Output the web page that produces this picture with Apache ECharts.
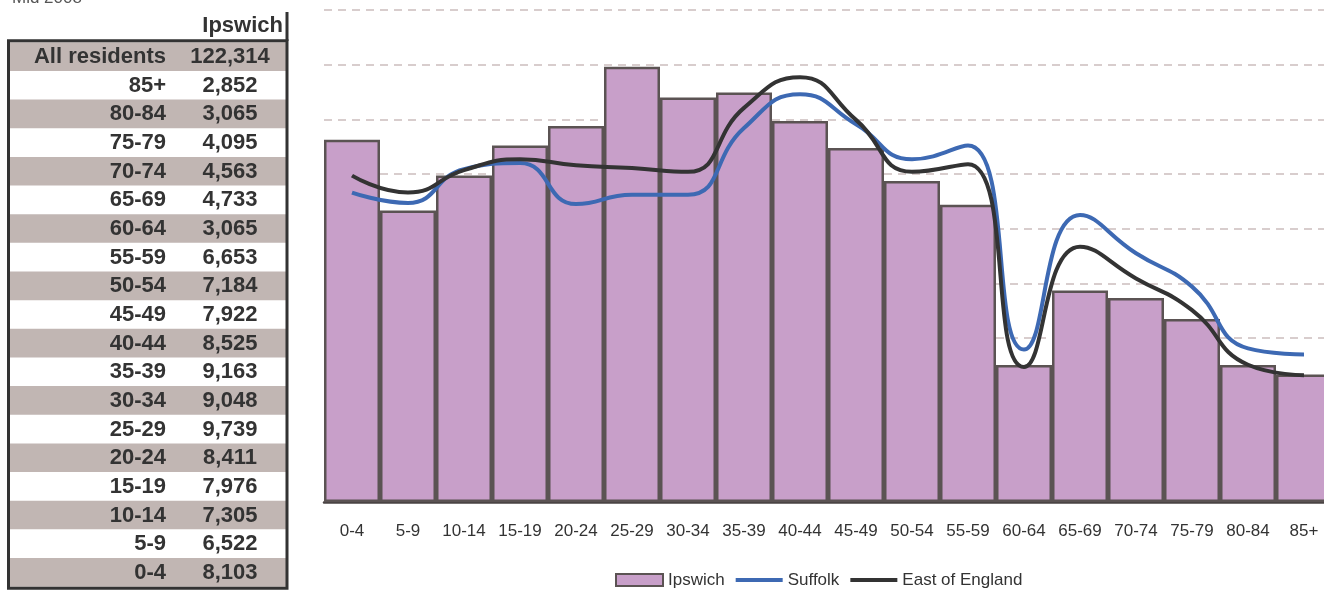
<!DOCTYPE html>
<html>
<head>
<meta charset="utf-8">
<title>Ipswich population by age, mid 2008</title>
<script src="https://cdn.jsdelivr.net/npm/echarts@6/dist/echarts.min.js"></script>
<style>
  html, body { margin: 0; padding: 0; background: #fff; }
  #chart { width: 1324px; height: 590px; }
</style>
</head>
<body>
<div id="chart"></div>
<script>
// age bands, youngest first
const ageGroups = ['0-4', '5-9', '10-14', '15-19', '20-24', '25-29', '30-34', '35-39', '40-44',
  '45-49', '50-54', '55-59', '60-64', '65-69', '70-74', '75-79', '80-84', '85+'];
// Ipswich residents per band (from the table)
const ipswichCounts = [8103, 6522, 7305, 7976, 8411, 9739, 9048, 9163, 8525,
  7922, 7184, 6653, 3065, 4733, 4563, 4095, 3065, 2852];
const allResidents = 122314;
// share of population in each band, %
const suffolkPct = [5.66, 5.47, 6.09, 6.20, 5.45, 5.62, 5.62, 6.84, 7.46,
  6.91, 6.27, 6.52, 2.79, 5.25, 4.55, 3.94, 2.81, 2.70];
const eastPct = [5.97, 5.66, 6.07, 6.27, 6.16, 6.11, 6.04, 7.21, 7.77,
  6.99, 6.04, 6.18, 2.47, 4.67, 4.09, 3.51, 2.51, 2.32];

const FONT = '"Liberation Sans", Arial, Helvetica, sans-serif';

const ipswichPct = ipswichCounts.map(v => v / allResidents * 100);
const fmt = n => String(n).replace(/\B(?=(\d{3})+(?!\d))/g, ',');

// table on the left, oldest first like the original
const tableLabels = ['All residents'].concat(ageGroups.slice().reverse());
const tableValues = [allResidents].concat(ipswichCounts.slice().reverse());
const rowTop = 42.3, rowH = 28.65;

const tableEls = [];
tableLabels.forEach((lab, i) => {
  const y = rowTop + i * rowH;
  if (i % 2 === 0) {
    tableEls.push({ type: 'rect', silent: true,
      shape: { x: 9, y: y, width: 277, height: rowH },
      style: { fill: '#c1b6b3' } });
  }
  tableEls.push({ type: 'text', silent: true,
    style: { text: lab, x: 166, y: y + rowH / 2 + 0.5, align: 'right', textAlign: 'right',
      verticalAlign: 'middle', textVerticalAlign: 'middle',
      font: 'bold 22px ' + FONT, fill: '#333' } });
  tableEls.push({ type: 'text', silent: true,
    style: { text: fmt(tableValues[i]), x: 230, y: y + rowH / 2 + 0.5, align: 'center', textAlign: 'center',
      verticalAlign: 'middle', textVerticalAlign: 'middle',
      font: 'bold 22px ' + FONT, fill: '#333' } });
});
tableEls.push({ type: 'rect', silent: true,
  shape: { x: 8.5, y: 40.8, width: 278.5, height: 547.5 },
  style: { fill: 'none', stroke: '#333', lineWidth: 3 } });
tableEls.push({ type: 'line', silent: true,
  shape: { x1: 287, y1: 12, x2: 287, y2: 41 },
  style: { stroke: '#333', lineWidth: 3 } });
tableEls.push({ type: 'text', silent: true,
  style: { text: 'Ipswich', x: 283, y: 26, align: 'right', textAlign: 'right',
    verticalAlign: 'middle', textVerticalAlign: 'middle',
    font: 'bold 22px ' + FONT, fill: '#333' } });
tableEls.push({ type: 'text', silent: true,
  style: { text: 'Mid 2008', x: 12, y: -2, align: 'left', textAlign: 'left',
    verticalAlign: 'middle', textVerticalAlign: 'middle',
    font: '17px ' + FONT, fill: '#555' } });

const hiddenDot = { color: 'rgba(0,0,0,0)', borderWidth: 0, opacity: 0 };

const chart = echarts.init(document.getElementById('chart'));
chart.setOption({
  animation: false,
  backgroundColor: '#fff',
  textStyle: { fontFamily: FONT },
  graphic: { elements: tableEls },
  // plot runs a little past the right edge, as in the original
  grid: { left: 324, top: 10, width: 1008, height: 492, containLabel: false, outerBoundsMode: 'none' },
  legend: {
    left: 615, top: 571.5, padding: 0,
    itemWidth: 47, itemHeight: 12, itemGap: 9,
    textStyle: { fontSize: 17, color: '#333', fontFamily: FONT },
    data: [
      { name: 'Ipswich', icon: 'rect', itemStyle: { borderWidth: 2 } },
      { name: 'Suffolk', itemStyle: hiddenDot, lineStyle: { width: 4 } },
      { name: 'East of England', itemStyle: hiddenDot, lineStyle: { width: 4 } }
    ]
  },
  xAxis: {
    type: 'category',
    data: ageGroups,
    axisLine: { lineStyle: { color: '#4a4444', width: 2.5 } },
    axisTick: { length: 5, lineStyle: { color: '#999', width: 2 } },
    axisLabel: { interval: 0, fontSize: 17, color: '#333', margin: 21, fontFamily: FONT }
  },
  yAxis: {
    type: 'value',
    min: 0, max: 9, interval: 1,
    axisLabel: { show: false },
    axisLine: { show: false },
    axisTick: { show: false },
    splitLine: { lineStyle: { type: [8, 6], color: '#cbbdbd', width: 1.5 } }
  },
  series: [
    {
      name: 'Ipswich',
      type: 'bar',
      barCategoryGap: '0%',
      data: ipswichPct,
      itemStyle: { color: '#c89fc9', borderColor: '#5b5353', borderWidth: 2.5 },
      emphasis: { disabled: true }
    },
    {
      name: 'Suffolk',
      type: 'line',
      smooth: true,
      symbol: 'none',
      data: suffolkPct,
      itemStyle: { color: '#3d69b3' },
      lineStyle: { color: '#3d69b3', width: 4 },
      emphasis: { disabled: true },
      z: 3
    },
    {
      name: 'East of England',
      type: 'line',
      smooth: true,
      symbol: 'none',
      data: eastPct,
      itemStyle: { color: '#333333' },
      lineStyle: { color: '#333333', width: 4 },
      emphasis: { disabled: true },
      z: 4
    }
  ]
});
</script>
</body>
</html>
